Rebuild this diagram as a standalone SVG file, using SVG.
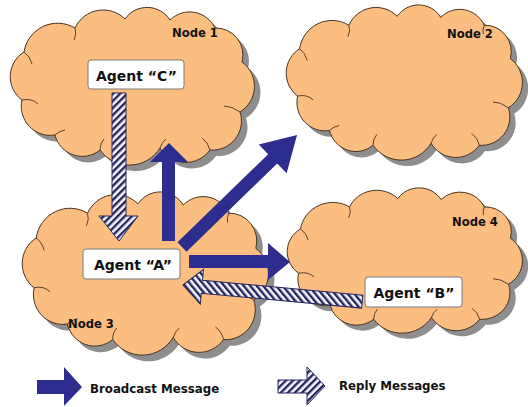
<svg xmlns="http://www.w3.org/2000/svg" xmlns:xlink="http://www.w3.org/1999/xlink" width="528" height="407" viewBox="0 0 528 407">
<style>
.shadow{fill:#8e8e8e;stroke:none}
.cloud{fill:#fbbd80;stroke:#4a3220;stroke-width:1}
.crease{fill:none;stroke:#4a3220;stroke-width:0.9}
.agent{fill:#ffffff;stroke:#7a7a7a;stroke-width:1}
.albl{font-family:"DejaVu Sans",sans-serif;font-weight:bold;font-size:14px;fill:#111;text-anchor:middle}
.nlbl{font-family:"DejaVu Sans",sans-serif;font-weight:bold;font-size:11.6px;fill:#111}
.leg{font-family:"DejaVu Sans",sans-serif;font-weight:bold;font-size:11.8px;fill:#111}
.blue{fill:#2d2d8f;stroke:none}
.hatch1{fill:url(#hatchF);stroke:#262660;stroke-width:1}
.hatch2{fill:url(#hatchB);stroke:#262660;stroke-width:1}
</style>
<defs>
<path id="cloudShape" vector-effect="non-scaling-stroke" d="M22,100 A29,29 0 0 1 24,52 A34,34 0 0 1 75,28 A31,31 0 0 1 125,19 A27,27 0 0 1 170,20 A28,28 0 0 1 215,28 A27,27 0 0 1 242,62 A30,30 0 0 1 240,112 A29,29 0 0 1 210,150 A30,30 0 0 1 160,148 A36,36 0 0 1 100,150 A28,28 0 0 1 55,135 A29,29 0 0 1 22,100 Z"/>
<path id="creases" vector-effect="non-scaling-stroke" d="M22,100 q10,-2 16,4 M24,52 q6,4 8,12 M75,28 q2,6 -1,12 M215,28 q-2,4 -1,9 M240,112 q-8,-6 -16,-6 M210,150 q-2,-8 -8,-12 M160,148 q2,-6 6,-9 M100,150 q0,-7 4,-11 M55,135 q4,-4 10,-5"/>
<pattern id="hatchF" width="5" height="5" patternUnits="userSpaceOnUse" patternTransform="rotate(45)"><rect width="5" height="5" fill="#f6f6ff"/><rect width="2.4" height="5" fill="#262660"/></pattern>
<pattern id="hatchB" width="5" height="5" patternUnits="userSpaceOnUse" patternTransform="rotate(-45)"><rect width="5" height="5" fill="#f6f6ff"/><rect width="2.4" height="5" fill="#262660"/></pattern>
</defs>
<rect width="528" height="407" fill="#ffffff"/>

<g id="node1">
<use href="#cloudShape" class="shadow" transform="translate(6,6)"/>
<use href="#cloudShape" class="cloud"/>
<use href="#creases" class="crease"/>
<text class="nlbl" x="172" y="37">Node 1</text>
</g>
<g id="node2">
<g transform="translate(286,5) scale(0.967,0.984) translate(-10,-7.5)">
<use href="#cloudShape" class="shadow" transform="translate(6,6)"/>
<use href="#cloudShape" class="cloud"/>
<use href="#creases" class="crease"/>
</g>
<text class="nlbl" x="447" y="38">Node 2</text>
</g>
<g id="node3">
<g transform="translate(22,192) scale(1.008,1.035) translate(-10,-7.5)">
<use href="#cloudShape" class="shadow" transform="translate(6,6)"/>
<use href="#cloudShape" class="cloud"/>
<use href="#creases" class="crease"/>
</g>
<text class="nlbl" x="68" y="328">Node 3</text>
</g>
<g id="node4">
<g transform="translate(287,188) scale(0.963,0.921) translate(-10,-7.5)">
<use href="#cloudShape" class="shadow" transform="translate(6,6)"/>
<use href="#cloudShape" class="cloud"/>
<use href="#creases" class="crease"/>
</g>
<text class="nlbl" x="452" y="226">Node 4</text>
</g>

<g id="connectors">
<polygon class="hatch1" points="112,93 126,93 126,216 138,216 119,241 99,216 112,216"/>
<polygon class="blue" points="162,241 162,162 150,162 169,143 188,162 175,162 175,241"/>
<polygon class="blue" transform="translate(182,247) rotate(-44.2)" points="0,-6.5 126.5,-6.5 126.5,-20 160.5,0 126.5,20 126.5,6.5 0,6.5"/>
<polygon class="blue" points="189,255 268,255 268,243 290,262 268,280 268,268 189,268"/>
<polygon class="hatch2" transform="translate(183,285) rotate(5.3)" points="0,0 19,-17.5 19,-6.5 180,-6.5 180,6.5 19,6.5 19,17.5"/>
</g>

<g id="agentC">
<rect class="agent" x="88" y="60" width="96" height="29" rx="3"/>
<text class="albl" x="136.5" y="80.5">Agent “C”</text>
</g>
<g id="agentA">
<rect class="agent" x="83" y="249" width="97" height="30" rx="3"/>
<text class="albl" x="133" y="269.5">Agent “A”</text>
</g>
<g id="agentB">
<rect class="agent" x="365" y="277" width="97" height="30" rx="3"/>
<text class="albl" x="414" y="298">Agent “B”</text>
</g>

<g id="legend">
<polygon class="blue" points="37,380 64,380 64,367 82,387 64,406 64,394 37,394"/>
<text class="leg" x="90" y="393">Broadcast Message</text>
<polygon class="hatch1" points="278,380 307,380 307,367 325,386 307,405 307,393 278,393"/>
<text class="leg" x="339" y="390">Reply Messages</text>
</g>
</svg>
